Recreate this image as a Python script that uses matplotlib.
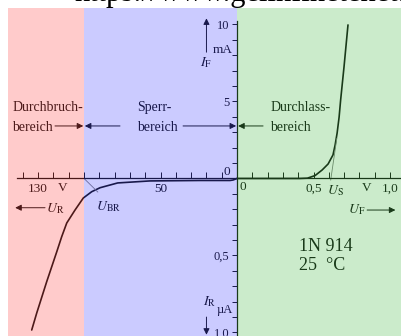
import numpy as np
import matplotlib
matplotlib.use("Agg")
import matplotlib.pyplot as plt

plt.rcParams["font.family"] = ["Liberation Serif", "DejaVu Serif"]
plt.rcParams["mathtext.fontset"] = "stix"

# forward branch: U_F in V, I_F in mA
fwd_u = [0, 0.30, 0.41, 0.46, 0.51, 0.556, 0.595, 0.627, 0.641, 0.654, 0.667, 0.677, 0.699, 0.725]
fwd_i = [0, 0, 0, 0.02, 0.19, 0.55, 0.94, 1.53, 2.18, 2.95, 3.99, 5.1, 7.24, 9.97]

# reverse branch: U_R in V, I_R in uA (negative = reverse quadrant)
rev_u = [0, -2.6, -4.6, -24, -57, -78, -89.5, -95, -100.5, -105.9, -111.3, -114.6,
         -117.8, -124.4, -130.9, -134.2]
rev_i = [0, -0.01, -0.013, -0.013, -0.016, -0.029, -0.06, -0.086, -0.127, -0.205, -0.289,
         -0.378, -0.475, -0.670, -0.873, -0.984]

# helper lines for U_S and U_BR
us_u = [0.612, 0.652]
us_i = [-0.01, 2.6]
ubr_u = [-100, -91]
ubr_i = [0, -0.088]

# regions
u_breakdown = -100
regions = [(-150, u_breakdown, "#ff5555"), (u_breakdown, 0, "#5555ff"), (0, 1.2, "#55c055")]

# ticks
xticks = [-140, -130, -120, -110, -100, -90, -80, -70, -60, -50, -40, -30, -20, -10,
          0.1, 0.2, 0.3, 0.4, 0.5, 0.6, 0.7, 0.8, 0.9, 1.0]
xlabels = {-130: "130", -50: "50", 0.5: "0,5", 1.0: "1,0"}
yticks = [-1.0, -0.9, -0.8, -0.7, -0.6, -0.5, -0.4, -0.3, -0.2, -0.1,
          1, 2, 3, 4, 5, 6, 7, 8, 9, 10]
ylabels = {-1.0: "1,0", -0.5: "0,5", 5: "5", 10: "10"}


# reverse side uses V (x100) and uA (x10) against V and mA forward
def x_fwd(x):
    x = np.asarray(x, float)
    return np.where(x >= 0, x, x / 100.0)


def x_inv(u):
    u = np.asarray(u, float)
    return np.where(u >= 0, u, u * 100.0)


def y_fwd(y):
    y = np.asarray(y, float)
    return np.where(y >= 0, y, y * 10.0)


def y_inv(v):
    v = np.asarray(v, float)
    return np.where(v >= 0, v, v / 10.0)


fig = plt.figure(figsize=(4.02, 3.36), dpi=100)
ax = fig.add_axes([8 / 402, 0, 394 / 402, 328 / 336])
ax.set_xscale("function", functions=(x_fwd, x_inv))
ax.set_yscale("function", functions=(y_fwd, y_inv))
ax.set_xlim(-149.7, 1.078)
ax.set_ylim(-1.023, 11.07)

# curves
ax.plot(fwd_u, fwd_i, color="k", lw=1.2, solid_capstyle="round", solid_joinstyle="round")
ax.plot(rev_u, rev_i, color="k", lw=1.2, solid_capstyle="round", solid_joinstyle="round")
ax.plot(us_u, us_i, color="0.45", lw=0.6)
ax.plot(ubr_u, ubr_i, color="0.45", lw=0.6)

# axes through origin
for s in ("top", "right"):
    ax.spines[s].set_visible(False)
ax.spines["left"].set_position(("data", 0))
ax.spines["bottom"].set_position(("data", 0))
ax.spines["left"].set_bounds(-1.023, 10.2)
ax.spines["bottom"].set_bounds(-144, 1.078)
for s in ("left", "bottom"):
    ax.spines[s].set_linewidth(0.9)

ax.set_xticks(xticks)
ax.set_xticklabels([xlabels.get(t, "") for t in xticks])
ax.set_yticks(yticks)
ax.set_yticklabels([ylabels.get(t, "") for t in yticks])
ax.xaxis.set_minor_locator(matplotlib.ticker.NullLocator())
ax.yaxis.set_minor_locator(matplotlib.ticker.NullLocator())
ax.tick_params(axis="x", direction="in", length=4.5, width=0.7, labelsize=9.5, pad=3)
ax.tick_params(axis="y", direction="out", length=3.5, width=0.7, labelsize=9, pad=2)

# axis labels and arrows
arrow = dict(arrowstyle="-|>", color="k", lw=0.7, mutation_scale=9, shrinkA=0, shrinkB=0)
ax.text(-2.6, 8.34, "mA", ha="right", va="center", fontsize=9.5)
ax.text(-20, 7.5, r"$I_\mathrm{F}$", ha="center", va="center", fontsize=10)
ax.annotate("", xy=(-20, 10.4), xytext=(-20, 8.2), arrowprops=arrow)
ax.text(-18, -0.80, r"$I_\mathrm{R}$", ha="center", va="center", fontsize=10)
ax.text(-2.6, -0.855, "µA", ha="right", va="center", fontsize=9)
ax.annotate("", xy=(-20, -1.015), xytext=(-20, -0.90), arrowprops=arrow)
ax.text(0.784, -0.205, r"$U_\mathrm{F}$", ha="center", va="center", fontsize=10)
ax.annotate("", xy=(1.035, -0.205), xytext=(0.85, -0.205), arrowprops=arrow)
ax.text(-119, -0.198, r"$U_\mathrm{R}$", ha="center", va="center", fontsize=10)
ax.annotate("", xy=(-145, -0.19), xytext=(-125.5, -0.19), arrowprops=arrow)
ax.text(-84.3, -0.185, r"$U_\mathrm{BR}$", ha="center", va="center", fontsize=10)
ax.text(0.64, -0.08, r"$U_\mathrm{S}$", ha="center", va="center", fontsize=10)
ax.text(-113.7, -0.062, "V", ha="center", va="center", fontsize=9.5)
ax.text(0.85, -0.062, "V", ha="center", va="center", fontsize=9.5)
ax.text(-6.5, 0.42, "0", ha="center", va="center", fontsize=9.5)
ax.text(0.039, -0.055, "0", ha="center", va="center", fontsize=9.5)

# region names
ax.text(-147, 4.58, "Durchbruch-", ha="left", va="center", fontsize=10)
ax.text(-147, 3.34, "bereich", ha="left", va="center", fontsize=10)
ax.text(-65.4, 4.58, "Sperr-", ha="left", va="center", fontsize=10)
ax.text(-65.4, 3.34, "bereich", ha="left", va="center", fontsize=10)
ax.text(0.22, 4.58, "Durchlass-", ha="left", va="center", fontsize=10)
ax.text(0.215, 3.34, "bereich", ha="left", va="center", fontsize=10)
ax.annotate("", xy=(-100.5, 3.41), xytext=(-119, 3.41), arrowprops=arrow)
ax.annotate("", xy=(-99.5, 3.41), xytext=(-76.5, 3.41), arrowprops=arrow)
ax.annotate("", xy=(-0.6, 3.41), xytext=(-35.3, 3.41), arrowprops=arrow)
ax.annotate("", xy=(0.007, 3.41), xytext=(0.17, 3.41), arrowprops=arrow)

ax.text(0.405, -0.445, "1N 914", ha="left", va="center", fontsize=13)
ax.text(0.405, -0.562, "25  °C", ha="left", va="center", fontsize=13)

# tinted regions on top of the line art
for x0, x1, c in regions:
    ax.axvspan(x0, x1, color=c, alpha=0.3, lw=0, zorder=10)

# page url, cut off by the top edge like in the source screenshot
fig.text(75 / 402, 1 - 1.5 / 336, "https://www.geiinfinetenet.de", ha="left",
         va="baseline", fontsize=22)

fig.savefig("out.png", dpi=100)
